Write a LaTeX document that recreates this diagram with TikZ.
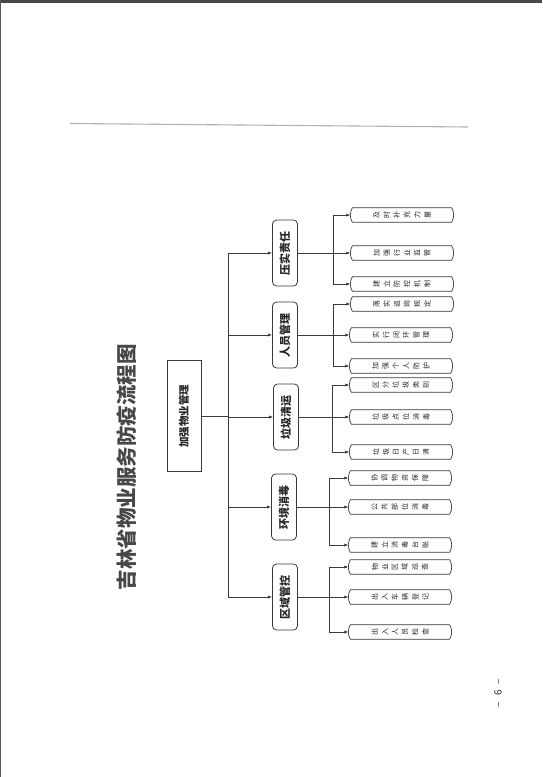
\documentclass[tikz,border=0pt]{standalone}
\usepackage{fontspec}
\usepackage{graphicx}
\setmainfont{Noto Sans CJK SC}
\usetikzlibrary{arrows.meta}
\definecolor{ln}{HTML}{3A3A3A}
\definecolor{tx}{HTML}{262626}
\makeatletter
\newcommand\vtxt[1]{\hspace{-3.8pt}\vtxt@#1\@nil}
\def\vtxt@#1{\ifx\@nil#1\else\hspace{3.8pt}\rotatebox[origin=c]{90}{#1}\expandafter\vtxt@\fi}
\makeatother
\begin{document}
\begin{tikzpicture}[x=1pt,y=-1pt,
  conn/.style={draw=ln, line width=0.7pt},
  arr/.style={conn,-{Latex[length=4pt,width=3.2pt]}},
  catbox/.style={draw=ln, line width=0.8pt, rounded corners=4pt, minimum width=25pt, minimum height=66pt, inner sep=0pt},
  cattext/.style={rotate=90, font=\fontsize{11}{11}\selectfont\bfseries, text=tx, inner sep=0pt},
  leafbox/.style={minimum width=99pt, minimum height=14pt, inner sep=0pt, font=\fontsize{7}{7}\selectfont, text=tx},
  leafline/.style={draw=ln, line width=0.7pt},
]
\useasboundingbox (0,0) rectangle (542,777);
\fill[white] (0,0) rectangle (542,777);
% page frame (scan edges)
\fill[black!72] (0,0) rectangle (542,3);
\fill[black!65] (0,0) rectangle (1.2,777);
% header rule
\coordinate (ra) at (70,123.5);
\coordinate (rb) at (468,127);
\draw[black!30, line width=1.1pt] (ra) -- (rb);

% title
\node[rotate=90, font=\fontsize{20.5}{20.5}\selectfont\bfseries, text=tx!85, inner sep=0pt] (title) at (127,467) {吉林省物业服务防疫流程图};

% main box
\node[draw=ln, line width=0.8pt, minimum width=34pt, minimum height=111pt, inner sep=0pt] (main) at (184,416) {};
\node[rotate=90, font=\fontsize{10.5}{10.5}\selectfont\bfseries, text=tx, inner sep=0pt] (maint) at (main.center) {加强物业管理};

% category boxes
\node[catbox] (c1) at (285,253) {};
\node[cattext] (c1t) at (c1.center) {压实责任};
\node[catbox] (c2) at (285,335) {};
\node[cattext] (c2t) at (c2.center) {人员管理};
\node[catbox] (c3) at (286,417) {};
\node[cattext] (c3t) at (c3.center) {垃圾清运};
\node[catbox] (c4) at (284,507) {};
\node[cattext] (c4t) at (c4.center) {环境消毒};
\node[catbox] (c5) at (285,597) {};
\node[cattext] (c5t) at (c5.center) {区域管控};

% trunk
\coordinate (tj) at (228,416);
\coordinate (t1) at (228,253);
\coordinate (t2) at (228,335);
\coordinate (t3) at (228,417);
\coordinate (t4) at (228,507);
\coordinate (t5) at (228,597);
\draw[conn] (main.east) -- (tj);
\draw[conn] (t1) -- (t5);
\foreach \i in {1,...,5} { \draw[arr] (t\i) -- (c\i.west); }

% leaves
\node[leafbox] (l11) at (402,215) {\vtxt{及时补充力量}};
\node[leafbox] (l12) at (402,253) {\vtxt{加强行业监管}};
\node[leafbox] (l13) at (402,284) {\vtxt{建立防控机制}};
\node[leafbox] (l21) at (402,304) {\vtxt{落实返岗规定}};
\node[leafbox] (l22) at (401,335) {\vtxt{实行闭环管理}};
\node[leafbox] (l23) at (401,366) {\vtxt{加强个人防护}};
\node[leafbox] (l31) at (401,385) {\vtxt{区分垃圾类别}};
\node[leafbox] (l32) at (401,417) {\vtxt{垃圾点位消毒}};
\node[leafbox] (l33) at (401,452) {\vtxt{垃圾日产日清}};
\node[leafbox] (l41) at (400,478) {\vtxt{协调物资保障}};
\node[leafbox] (l42) at (400,507) {\vtxt{公共部位消毒}};
\node[leafbox] (l43) at (400,545) {\vtxt{建立消毒台账}};
\node[leafbox] (l51) at (400,567) {\vtxt{物业区域巡查}};
\node[leafbox] (l52) at (400,597) {\vtxt{出入车辆登记}};
\node[leafbox] (l53) at (400,632) {\vtxt{出入人员检查}};
\foreach \n in {l11,l12,l13,l21,l22,l23,l31,l32,l33,l41,l42,l43,l51,l52,l53} {
  \draw[leafline] (\n.north west) to[bend right=28] (\n.south west) -- (\n.south east) to[bend right=28] (\n.north east) -- cycle;
}

% sub-trunks
\coordinate (s11) at (333,215); \coordinate (s12) at (333,253); \coordinate (s13) at (333,284);
\coordinate (s21) at (333,304); \coordinate (s22) at (333,335); \coordinate (s23) at (333,366);
\coordinate (s31) at (332,385); \coordinate (s32) at (332,417); \coordinate (s33) at (332,452);
\coordinate (s41) at (329,478); \coordinate (s42) at (329,507); \coordinate (s43) at (329,545);
\coordinate (s51) at (329,567); \coordinate (s52) at (329,597); \coordinate (s53) at (329,632);
\foreach \i in {1,...,5} {
  \draw[conn] (c\i.east) -- (s\i2);
  \draw[conn] (s\i1) -- (s\i3);
  \foreach \j in {1,2,3} { \draw[arr] (s\i\j) -- ([xshift=-2pt]l\i\j.west); }
}

% page number
\node[rotate=90, font=\fontsize{10}{10}\selectfont, text=tx, inner sep=0pt] (pg) at (498,693) {–\hspace{6pt}6\hspace{6pt}–};
\end{tikzpicture}
\end{document}
